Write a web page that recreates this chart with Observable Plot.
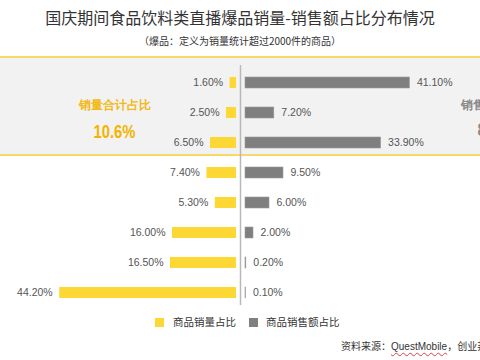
<!DOCTYPE html>
<html><head><meta charset="utf-8">
<script src="https://cdn.jsdelivr.net/npm/d3@7"></script>
<script src="https://cdn.jsdelivr.net/npm/@observablehq/plot@0.6"></script>
<style>
html,body{margin:0;padding:0;background:#fff;width:480px;height:360px;overflow:hidden;position:relative;font-family:"Noto Sans CJK SC","Liberation Sans",sans-serif;}
.abs{position:absolute;white-space:nowrap;}
#title{left:0;width:480px;top:7px;text-align:center;font-size:16px;line-height:20px;color:#333;}
#subtitle{left:0;width:480px;top:34px;text-align:center;font-size:10px;line-height:14px;color:#333;}
#band{left:0;width:480px;top:56px;height:100px;box-sizing:border-box;background:#f2f2f2;border-top:2px solid #f7d96a;border-bottom:2px solid #f7d96a;}
#chart{left:0;top:55px;}
#legend{left:155px;top:314px;display:flex;align-items:center;font-size:10.5px;line-height:16px;color:#333;}
.sw{width:9px;height:9px;display:inline-block;}
#caption{left:341px;top:339px;font-size:10px;line-height:14px;color:#333;}
#caption .q{font-family:"Liberation Sans",Arial,sans-serif;text-decoration:underline wavy #e04040;text-decoration-thickness:1px;text-underline-offset:2px;}
</style>
</head><body>
<div class="abs" id="title">国庆期间食品饮料类直播爆品销量-销售额占比分布情况</div>
<div class="abs" id="subtitle">（爆品：定义为销量统计超过2000件的商品）</div>
<div class="abs" id="band"></div>
<div class="abs" id="chart"></div>
<div class="abs" id="legend"><span class="sw" style="background:#fdd835"></span><span style="margin-left:9px">商品销量占比</span><span class="sw" style="background:#808080;margin-left:13px"></span><span style="margin-left:8px">商品销售额占比</span></div>
<div class="abs" id="caption">资料来源：<span class="q">QuestMobile</span>，创业邦研究中心</div>
<script>
const rows = ["r1","r2","r3","r4","r5","r6","r7","r8"];
const volumeShare = [1.6, 2.5, 6.5, 7.4, 5.3, 16.0, 16.5, 44.2];
const amountShare = [41.1, 7.2, 33.9, 9.5, 6.0, 2.0, 0.2, 0.1];
const volumeTotalLabel = "销量合计占比";
const volumeTotal = "10.6%";
const amountTotalLabel = "销售额合计占比";
const amountTotal = "82.2%";

const data = rows.map((r, i) => ({row: r, vol: volumeShare[i], amt: amountShare[i]}));
const fmt = v => v.toFixed(2) + "%";
const numFont = "'Liberation Sans', Arial, sans-serif";
const bigFont = "'Liberation Sans', Arial, sans-serif";

const chart = Plot.plot({
  width: 480, height: 260,
  marginTop: 10, marginBottom: 10, marginLeft: 0, marginRight: 0,
  style: {background: "transparent", overflow: "visible"},
  x: {domain: [-60, 60], axis: null},
  y: {type: "band", domain: rows, range: [10.8, 254.2], paddingInner: 0.64, paddingOuter: 0.32, axis: null},
  marks: [
    Plot.ruleX([0], {stroke: "#b8b8b8", strokeWidth: 1.5}),
    Plot.barX(data, {x1: 0, x2: d => -d.vol, y: "row", fill: "#fdd835", dx: -4}),
    Plot.barX(data, {x1: 0, x2: "amt", y: "row", fill: "#7f7f7f", stroke: "#9a9a9a", strokeWidth: 0.6, dx: 5}),
    Plot.text(data, {x: d => -d.vol, y: "row", text: d => fmt(d.vol), textAnchor: "end", dx: -11, fill: "#555", fontSize: 10.5, fontFamily: numFont}),
    Plot.text(data, {x: "amt", y: "row", text: d => fmt(d.amt), textAnchor: "start", dx: 12, fill: "#555", fontSize: 10.5, fontFamily: numFont}),
    Plot.text([volumeTotalLabel], {x: -31.5, y: () => rows[1], text: d => d, dy: -8, fill: "#f3b914", fontSize: 12, fontWeight: "bold"}),
    Plot.text([volumeTotal], {x: -31.5, y: () => rows[1], text: d => d, dy: 19, fill: "#f3b400", fontSize: 19, fontWeight: "bold", fontFamily: bigFont, className: "big"}),
    Plot.text([amountTotalLabel], {x: 65.5, y: () => rows[1], text: d => d, dy: -8, fill: "#8a8a8a", fontSize: 12, fontWeight: "bold"}),
    Plot.text([amountTotal], {x: 64.5, y: () => rows[1], text: d => d, dy: 17, fill: "#8a8a8a", fontSize: 19, fontWeight: "bold", fontFamily: bigFont, className: "big"})
  ]
});
// condense the large total figures to match the narrow display face
d3.select(chart).selectAll("g.big text").attr("textLength", 42).attr("lengthAdjust", "spacingAndGlyphs");
document.getElementById("chart").appendChild(chart);
</script>
</body></html>
